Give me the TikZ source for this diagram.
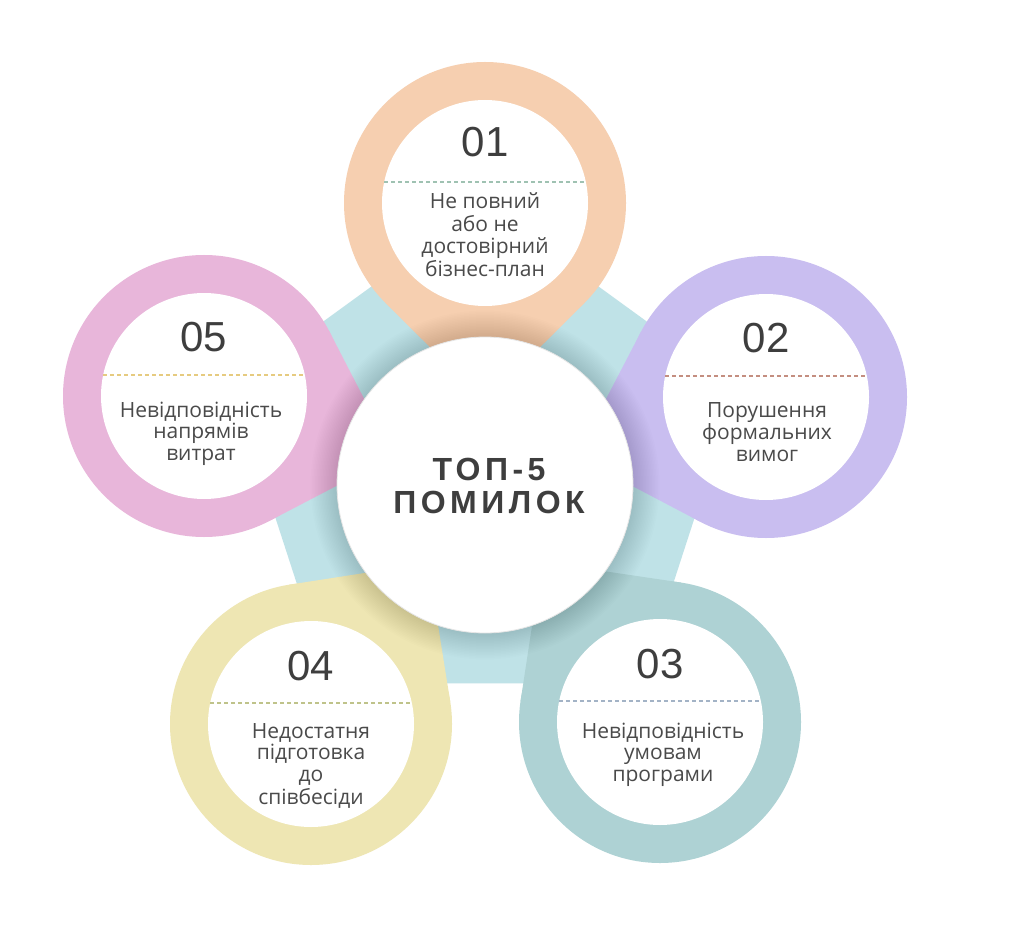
\documentclass[tikz,border=0pt]{standalone}
\usepackage{fontspec}
\setmainfont{Open Sans}
\newfontfamily\numfont{Liberation Sans}
\newfontfamily\titlefont[LetterSpace=14]{Liberation Sans}
\usetikzlibrary{calc}

\definecolor{pent}{HTML}{BFE2E7}
\definecolor{c1}{HTML}{F6CFB0}
\definecolor{c2}{HTML}{C9BEF0}
\definecolor{c3}{HTML}{AED2D4}
\definecolor{c4}{HTML}{EEE6B3}
\definecolor{c5}{HTML}{E8B6DA}
\definecolor{d1}{HTML}{9FC2B2}
\definecolor{d2}{HTML}{C48E80}
\definecolor{d3}{HTML}{A3B3C6}
\definecolor{d4}{HTML}{BFC38A}
\definecolor{d5}{HTML}{E6CB80}
\definecolor{ink}{HTML}{3E3E3E}
\definecolor{body}{HTML}{4A4A4A}

% stacked, centred lines whose baseline is the first line's baseline
\newcommand\stacklines[1]{\begin{tabular}[t]{@{}c@{}}#1\end{tabular}}

\begin{document}
\begin{tikzpicture}[x=1pt,y=-1pt,
  numtext/.style={font=\numfont\fontsize{42}{42}\selectfont, text=ink, anchor=base, inner sep=0},
  bodytext/.style={font=\fontsize{21}{21.6}\selectfont, text=body, anchor=base, inner sep=0},
  divider/.style={dash pattern=on 4pt off 3pt, line width=1.2pt}]

\useasboundingbox (0,0) rectangle (1024,949);
\fill[white] (0,0) rectangle (1024,949);

% hub and ring centres
\coordinate (O) at (485,485);
\coordinate (P) at (485,469);
\coordinate (C1) at (485,203);
\coordinate (C2) at (766,397);
\coordinate (C3) at (660,722);
\coordinate (C4) at (311,724);
\coordinate (C5) at (204,396);

% pentagon behind everything
\fill[pent] ($(P)+(-90:265)$) -- ($(P)+(-18:265)$) -- ($(P)+(54:265)$)
  -- ($(P)+(126:265)$) -- ($(P)+(198:265)$) -- cycle;

% pin-shaped rings, each pointing at the hub
\foreach \c/\col in {C1/c1, C2/c2, C3/c3, C4/c4, C5/c5} {
  \fill[\col] (\c) circle[radius=141];
  \fill[\col] ($(\c)!199pt!(O)$) -- ($(\c)!141pt!45:(O)$) -- ($(\c)!141pt!-45:(O)$) -- cycle;
  \fill[white] (\c) circle[radius=103];
}

% soft shadow round the hub
\foreach \k [evaluate=\k as \rr using 149+1.5*\k] in {0,...,17}
  \fill[black, fill opacity=0.009] (O) circle[radius=\rr];

% hub
\node[circle, fill=white, draw=black!10, line width=0.8pt, minimum size=296pt, inner sep=0] (hub) at (O) {};
\node[anchor=base, inner sep=0, text=ink, font=\titlefont\bfseries\fontsize{32}{33}\selectfont] (title) at (489,480)
  {\stacklines{ТОП-5\\ПОМИЛОК}};

% dividers
\foreach \c/\col in {C1/d1, C2/d2, C3/d3, C4/d4, C5/d5}
  \draw[divider, \col] ($(\c)+(-100.8,-21)$) -- ($(\c)+(100.8,-21)$);

% numbers
\node[numtext] (n1) at ($(C1)+(0,-46)$) {01};
\node[numtext] (n2) at ($(C2)+(0,-45)$) {02};
\node[numtext] (n3) at ($(C3)+(0,-44)$) {03};
\node[numtext] (n4) at ($(C4)+(0,-44)$) {04};
\node[numtext] (n5) at ($(C5)+(0,-45)$) {05};

% captions
\node[bodytext] (t1) at (485,209) {\stacklines{Не повний\\або не\\достовірний\\бізнес-план}};
\node[bodytext] (t2) at (767,417) {\stacklines{Порушення\\формальних\\вимог}};
\node[bodytext] (t3) at (663,738) {\stacklines{Невідповідність\\умовам\\програми}};
\node[bodytext] (t4) at (311,738) {\stacklines{Недостатня\\підготовка\\до\\співбесіди}};
\node[bodytext] (t5) at (201,417) {\stacklines{Невідповідність\\напрямів\\витрат}};

\end{tikzpicture}
\end{document}
